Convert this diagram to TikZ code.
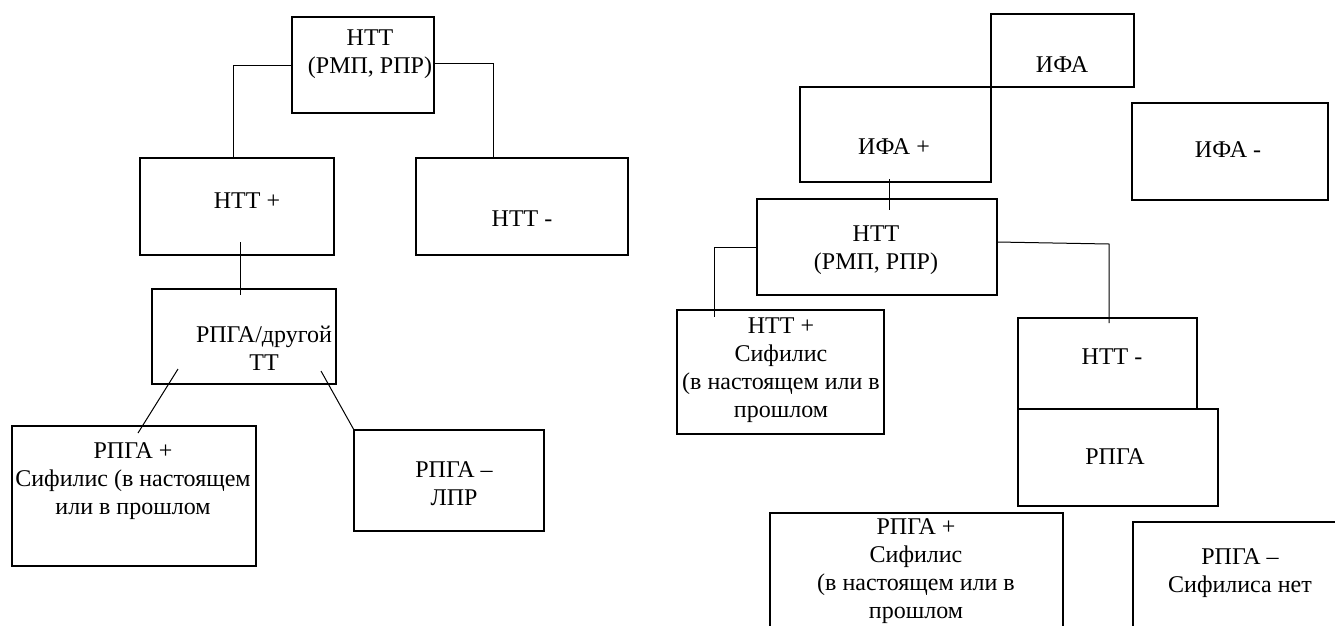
\documentclass[tikz,border=0pt]{standalone}
\usepackage{fontspec}
\setmainfont{Liberation Serif}
\usetikzlibrary{calc}
\newcommand{\mybox}[5]{\node[boxst, minimum width={(#4)-(#2)}, minimum height={(#5)-(#3)}] (#1) at ({((#2)+(#4))/2},{((#3)+(#5))/2}) {};}
\tikzset{
  boxst/.style={draw, line width=2.2pt, inner sep=0pt, outer sep=0pt, rectangle},
  txt/.style={align=center, inner sep=0pt, font=\fontsize{24}{28}\selectfont},
  conn/.style={draw, line width=1pt}
}
\begin{document}
\begin{tikzpicture}[x=1pt,y=-1pt]
\useasboundingbox (0,0) rectangle (1335,625);
\clip (0,0) rectangle (1335,625);
% ---------- left diagram ----------
\mybox{A}{292}{17}{434}{113}
\mybox{B}{140}{158}{334}{255}
\mybox{C}{416}{158}{628}{255}
\mybox{D}{152}{289}{336}{384}
\mybox{E}{12}{426}{256}{566}
\mybox{F}{354}{430}{544}{531}
\node[txt] (tA) at (370,54) {НТТ\\(РМП, РПР)};
\node[txt] (tB) at (247,201) {НТТ +};
\node[txt] (tC) at (522,219) {НТТ -};
\node[txt] (tD) at (264,348) {РПГА/другой\\ТТ};
\node[txt] (tE) at (133,481) {РПГА +\\Сифилис (в настоящем\\или в прошлом};
\node[txt] (tF) at (454,484) {РПГА –\\ЛПР};
\coordinate (b1) at (233,158);
\coordinate (c1) at (493,158);
\coordinate (bd1) at (240,242);
\coordinate (bd2) at (240,295);
\coordinate (de1) at (178,369);
\coordinate (de2) at (138,433);
\coordinate (df1) at (321,371);
\draw[conn] (A.west) -| (b1);
\draw[conn] ($(A.east)+(0,-2)$) -| (c1);
\draw[conn] (bd1) -- (bd2);
\draw[conn] (de1) -- (de2);
\draw[conn] (df1) -- (F.north west);
% ---------- right diagram ----------
\mybox{I0}{991}{14}{1134}{87}
\mybox{I1}{800}{87}{991}{182}
\mybox{I2}{1132}{103}{1328}{200}
\mybox{G}{757}{199}{997}{295}
\mybox{H1}{677}{310}{884}{434}
\mybox{H2}{1018}{318}{1197}{409}
\mybox{R}{1018}{409}{1218}{506}
\mybox{P1}{770}{513}{1063}{660}
\mybox{P2}{1133}{522}{1360}{660}
\node[txt] (tI0) at (1062,65) {ИФА};
\node[txt] (tI1) at (894,147) {ИФА +};
\node[txt] (tI2) at (1228,150) {ИФА -};
\node[txt] (tG) at (876,250) {НТТ\\(РМП, РПР)};
\node[txt] (tH1) at (781,370) {НТТ +\\Сифилис\\(в настоящем или в\\прошлом};
\node[txt] (tH2) at (1112,357) {НТТ -};
\node[txt] (tR) at (1115,457) {РПГА};
\node[txt] (tP1) at (916,571) {РПГА +\\Сифилис\\(в настоящем или в\\прошлом};
\node[txt] (tP2) at (1240,573) {РПГА –\\Сифилиса нет};
\coordinate (ig1) at (889,179);
\coordinate (ig2) at (889,210);
\coordinate (gh1) at (714,317);
\coordinate (gr1) at (997,242);
\coordinate (gr2) at (1109,244);
\coordinate (gr3) at (1109,323);
\draw[conn] (ig1) -- (ig2);
\draw[conn] (G.west) -| (gh1);
\draw[conn] (gr1) -- (gr2) -- (gr3);
\end{tikzpicture}
\end{document}
